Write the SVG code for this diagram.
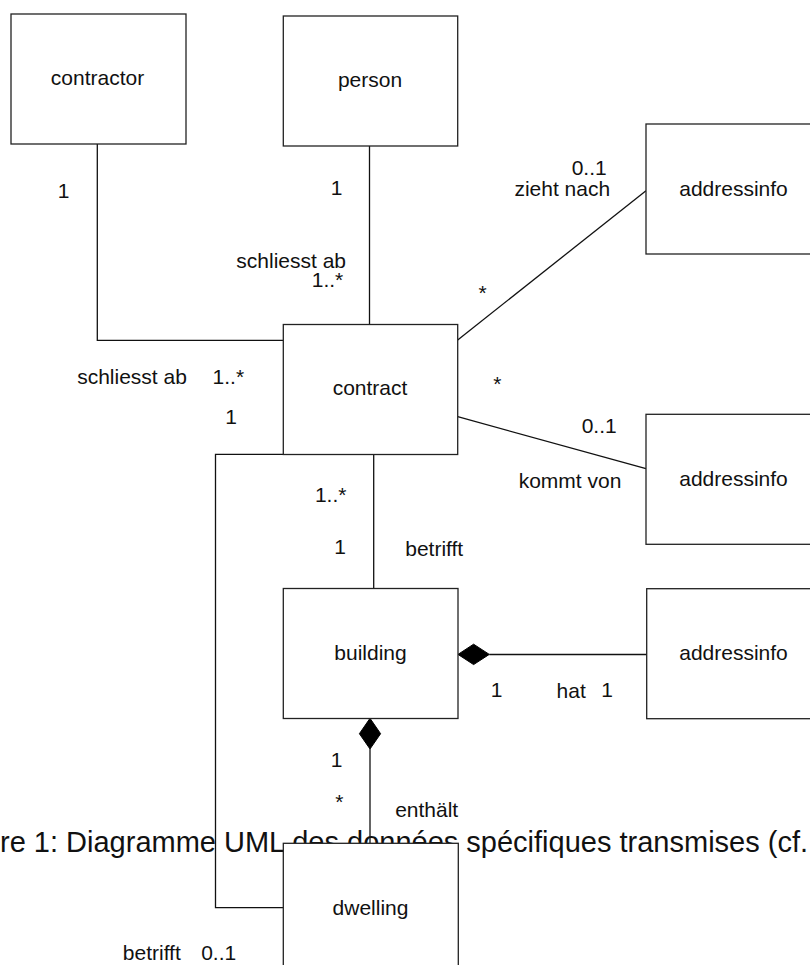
<svg xmlns="http://www.w3.org/2000/svg" width="810" height="965" viewBox="0 0 810 965">
<style>
text{font-family:"Liberation Sans",Arial,sans-serif;font-size:21px;fill:#111;}
.lbl{text-anchor:middle;}
.cap{font-size:29px;}
.box rect{fill:#fff;stroke:#222;stroke-width:1.3;}
.box text{text-anchor:middle;}
.conn path{fill:none;stroke:#111;stroke-width:1.3;}
.dia{fill:#000;stroke:#000;stroke-width:1;}
</style>
<rect width="810" height="965" fill="#fff"/>
<text class="cap" x="0" y="852">re 1: Diagramme UML des données spécifiques transmises (cf.</text>
<g id="connectors" class="conn">
<path d="M97.3,144 V340.3 H283.3"/>
<path d="M369.5,146 V324.5"/>
<path d="M457.7,340 L646,190.7"/>
<path d="M457.7,416.7 L646,468.7"/>
<path d="M373.7,454.5 V588.5"/>
<path d="M283.3,454.3 H215.5 V907.7 H283.3"/>
<path d="M489.3,654.5 H646.7"/>
<path d="M370,749 V843.3"/>
<polygon class="dia" points="458,654.4 473.6,644.2 489.3,654.4 473.6,664.6"/>
<polygon class="dia" points="370,718.3 380.6,733.7 370,749 359.4,733.7"/>
</g>
<g id="labels">
<text class="lbl" x="63.5" y="198">1</text>
<text class="lbl" x="336.5" y="195">1</text>
<text class="lbl" x="291.2" y="267.7">schliesst ab</text>
<text class="lbl" x="327.5" y="287.3">1..*</text>
<text class="lbl" x="132" y="384.3">schliesst ab</text>
<text class="lbl" x="228.3" y="384">1..*</text>
<text class="lbl" x="231.2" y="424.3">1</text>
<text class="lbl" x="589.2" y="175">0..1</text>
<text class="lbl" x="562.3" y="196">zieht nach</text>
<text class="lbl" x="482.7" y="300">*</text>
<text class="lbl" x="497.3" y="391.3">*</text>
<text class="lbl" x="599.2" y="433.3">0..1</text>
<text class="lbl" x="570" y="488.3">kommt von</text>
<text class="lbl" x="330.7" y="501.7">1..*</text>
<text class="lbl" x="340.2" y="554">1</text>
<text class="lbl" x="434.2" y="555.7">betrifft</text>
<text class="lbl" x="496.7" y="697">1</text>
<text class="lbl" x="571.2" y="698">hat</text>
<text class="lbl" x="607" y="696.7">1</text>
<text class="lbl" x="336.7" y="766.7">1</text>
<text class="lbl" x="339.3" y="809.3">*</text>
<text class="lbl" x="426.7" y="817">enthält</text>
<text class="lbl" x="151.8" y="960">betrifft</text>
<text class="lbl" x="218.7" y="960">0..1</text>
</g>
<g id="contractor" class="box"><rect x="11" y="14" width="175" height="130"/><text x="97.5" y="85">contractor</text></g>
<g id="person" class="box"><rect x="283.3" y="16" width="174.4" height="130"/><text x="370" y="87">person</text></g>
<g id="addressinfo-1" class="box"><rect x="646" y="124" width="174" height="130"/><text x="733.5" y="195.5">addressinfo</text></g>
<g id="contract" class="box"><rect x="283.3" y="324.5" width="174.4" height="130"/><text x="370" y="395.3">contract</text></g>
<g id="addressinfo-2" class="box"><rect x="646" y="414.3" width="174" height="130"/><text x="733.5" y="485.5">addressinfo</text></g>
<g id="building" class="box"><rect x="283.3" y="588.5" width="174.7" height="130"/><text x="370.5" y="660">building</text></g>
<g id="addressinfo-3" class="box"><rect x="646.7" y="588.7" width="174" height="130"/><text x="733.5" y="660">addressinfo</text></g>
<g id="dwelling" class="box"><rect x="283.3" y="843.3" width="175" height="130"/><text x="370.5" y="914.5">dwelling</text></g>
</svg>
